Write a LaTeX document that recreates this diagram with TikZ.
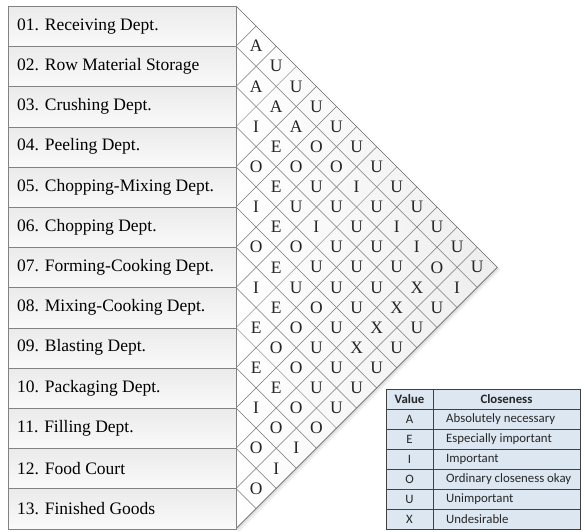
\documentclass[tikz,border=0pt]{standalone}
\usepackage{fontspec}
\setmainfont{Liberation Serif}
\newfontfamily\tabfont{Carlito}
\usetikzlibrary{shadings}
\definecolor{tabfill}{RGB}{221,231,242}
\definecolor{gridline}{RGB}{120,120,120}
\definecolor{boxline}{RGB}{130,130,130}
\tikzset{
  deptbox/.style={draw=boxline, line width=0.8pt, top color=gray!16, bottom color=gray!4,
    minimum width=228pt, minimum height=40.2pt, anchor=north west, inner sep=0pt},
  depttext/.style={anchor=west, font=\fontsize{17.5}{20}\selectfont, inner sep=0pt},
  rel/.style={font=\fontsize{17.5}{20}\selectfont, inner sep=0pt, text=black!85},
  tabcell/.style={draw=black!75, line width=0.7pt, fill=tabfill, minimum height=20pt, inner sep=0pt,
    font=\tabfont\fontsize{12.8}{14}\selectfont, text=black!85},
  tabhead/.style={tabcell, font=\tabfont\bfseries\fontsize{12.8}{14}\selectfont},
  tabtext/.style={anchor=west, inner sep=0pt, font=\tabfont\fontsize{12.8}{14}\selectfont, text=black!85}
}
\begin{document}
\begin{tikzpicture}[x=1pt,y=-1pt]
\useasboundingbox (0,0) rectangle (585,531);
% shadow of triangle
\fill[gray!25] (238,530) -- (499.3,268.7) -- (497.3,267.3) -- (236,528.6) -- cycle;
\fill[gray!12] (239,532) -- (501,269) -- (499.3,268.7) -- (238,530) -- cycle;
% triangle
\shade[left color=white, right color=gray!14] (236,6) -- (497.3,267.3) -- (236,528.6) -- cycle;
% grid lines
\foreach \k in {1,...,12}{
  \draw[gridline, line width=0.5pt] (236,{6+40.2*\k}) -- ({236+20.1*(13-\k)},{6+40.2*\k+20.1*(13-\k)});
  \draw[gridline, line width=0.5pt] (236,{6+40.2*\k}) -- ({236+20.1*\k},{6+40.2*\k-20.1*\k});
}
\draw[black!60, line width=0.7pt] (236,6) -- (497.3,267.3) -- (236,528.6);
% department boxes
\foreach \n [count=\r from 0] in {01. Receiving Dept.,02. Row Material Storage,03. Crushing Dept.,04. Peeling Dept.,05. Chopping-Mixing Dept.,06. Chopping Dept.,07. Forming-Cooking Dept.,08. Mixing-Cooking Dept.,09. Blasting Dept.,10. Packaging Dept.,11. Filling Dept.,12. Food Court,13. Finished Goods}{
  \node[deptbox] (b\r) at (8,{6+40.2*\r}) {};
  \node[depttext] (t\r) at (17,{6+40.2*\r+20.1}) {\n};
}
% relationship letters
\foreach \i/\j/\L in {1/2/A,1/3/U,2/3/A,1/4/U,2/4/A,1/5/U,3/4/I,2/5/A,1/6/U,
3/5/E,2/6/O,1/7/U,
4/5/O,3/6/O,2/7/O,1/8/U,
4/6/E,3/7/U,2/8/I,1/9/U,
5/6/I,4/7/U,3/8/U,2/9/U,1/10/U,
5/7/E,4/8/I,3/9/U,2/10/I,1/11/U,
6/7/O,5/8/O,4/9/U,3/10/U,2/11/I,1/12/U,
6/8/E,5/9/U,4/10/U,3/11/U,2/12/O,1/13/U,
7/8/I,6/9/U,5/10/U,4/11/U,3/12/X,2/13/I,
7/9/E,6/10/O,5/11/U,4/12/X,3/13/U,
8/9/E,7/10/O,6/11/U,5/12/X,4/13/U,
8/10/O,7/11/U,6/12/X,5/13/U,
9/10/E,8/11/O,7/12/U,6/13/U,
9/11/E,8/12/U,7/13/U,
10/11/I,9/12/O,8/13/U,
10/12/O,9/13/O,
11/12/O,10/13/I,
11/13/I,
12/13/O}{
  \node[rel] (c\i-\j) at ({236+20.1*(\j-\i)},{6+20.1*(\i+\j-1)}) {\L};
}
% legend table
\node[tabhead, minimum width=47pt] (hv) at (409.5,399) {Value};
\node[tabhead, minimum width=147pt] (hc) at (506.5,399) {Closeness};
\foreach \v/\d [count=\r from 1] in {A/Absolutely necessary,E/Especially important,I/Important,O/Ordinary closeness okay,U/Unimportant,X/Undesirable}{
  \node[tabcell, minimum width=47pt] (v\r) at (409.5,{399+20*\r}) {\v};
  \node[tabcell, minimum width=147pt] (d\r) at (506.5,{399+20*\r}) {};
  \node[tabtext] (dt\r) at (446,{399+20*\r}) {\d};
}
\draw[black!75, line width=1pt] (386,389) rectangle (580,529);
\end{tikzpicture}
\end{document}
